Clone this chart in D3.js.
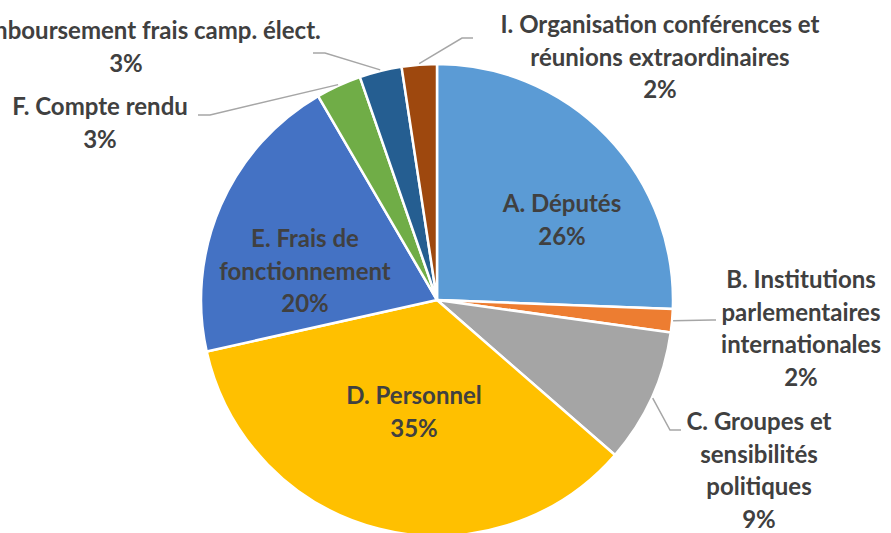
<!DOCTYPE html>
<html>
<head>
<meta charset="utf-8">
<script src="https://cdn.jsdelivr.net/npm/d3@7"></script>
<style>
  body { margin: 0; background: #fff; }
  svg { display: block; }
  text { font-family: Lato, "Open Sans", sans-serif; font-weight: bold; fill: #404040; }
</style>
</head>
<body>
<div id="chart"></div>
<script>
// budget shares
var categories = ["A", "B", "C", "D", "E", "F", "G", "I"];
var labelLines = [
  ["A. Députés"],
  ["B. Institutions", "parlementaires", "internationales"],
  ["C. Groupes et", "sensibilités", "politiques"],
  ["D. Personnel"],
  ["E. Frais de", "fonctionnement"],
  ["F. Compte rendu"],
  ["G. Remboursement frais camp. élect."],
  ["I. Organisation conférences et", "réunions extraordinaires"]
];
var values = [25.6, 1.6, 9.2, 35.1, 20.1, 3.1, 2.9, 2.4];
var colors = ["#5B9BD5", "#ED7D31", "#A5A5A5", "#FFC000", "#4472C4", "#70AD47", "#255E91", "#9E480E"];

// label layout: x = centre of text, y = first baseline, leader = elbow + end (outside labels only)
var labelLayout = [
  { x: 562, y: 212 },
  { x: 801, y: 288, leader: [[712, 320], [716, 320]] },
  { x: 759, y: 430, leader: [[670, 430], [681, 430]] },
  { x: 414, y: 404 },
  { x: 305, y: 247 },
  { x: 100, y: 115, leader: [[210, 115], [198, 115]] },
  { x: 126, y: 39, leader: [[325, 53], [313, 53]] },
  { x: 660, y: 33, leader: [[462, 38], [473, 38]] }
];

var width = 891, height = 533;
var cx = 437, cy = 300, r = 236;
var lineH = 32.5;

var svg = d3.select("#chart").append("svg")
  .attr("width", width)
  .attr("height", height);

var total = d3.sum(values);
var data = categories.map(function(c, i) {
  return { key: c, value: values[i], lines: labelLines[i], color: colors[i], pos: labelLayout[i] };
});

var pie = d3.pie().sort(null).value(function(d) { return d.value; });
var arc = d3.arc().innerRadius(0).outerRadius(r);
var arcs = pie(data);

var g = svg.append("g").attr("transform", "translate(" + cx + "," + cy + ")");

g.selectAll("path.slice")
  .data(arcs)
  .enter()
  .append("path")
    .attr("class", "slice")
    .attr("d", arc)
    .style("fill", function(d) { return d.data.color; })
    .style("stroke", "#fff")
    .style("stroke-width", 2.5)
    .style("stroke-linejoin", "round");

// leader lines
var fmt = d3.format(".0%");
var line = d3.line();

svg.selectAll("path.leader")
  .data(arcs.filter(function(d) { return d.data.pos.leader; }))
  .enter()
  .append("path")
    .attr("class", "leader")
    .attr("d", function(d) {
      var a = (d.startAngle + d.endAngle) / 2;
      var start = [cx + (r + 1) * Math.sin(a), cy - (r + 1) * Math.cos(a)];
      return line([start].concat(d.data.pos.leader));
    })
    .style("fill", "none")
    .style("stroke", "#A6A6A6")
    .style("stroke-width", 1.5);

// labels
var labels = svg.selectAll("text.lbl")
  .data(arcs)
  .enter()
  .append("text")
    .attr("class", "lbl")
    .attr("text-anchor", "middle")
    .style("font-size", "24px");

labels.each(function(d) {
  var t = d3.select(this);
  var lines = d.data.lines.concat([fmt(d.data.value / total)]);
  lines.forEach(function(s, i) {
    t.append("tspan")
      .attr("x", d.data.pos.x)
      .attr("y", d.data.pos.y + i * lineH)
      .text(s);
  });
});
</script>
</body>
</html>
